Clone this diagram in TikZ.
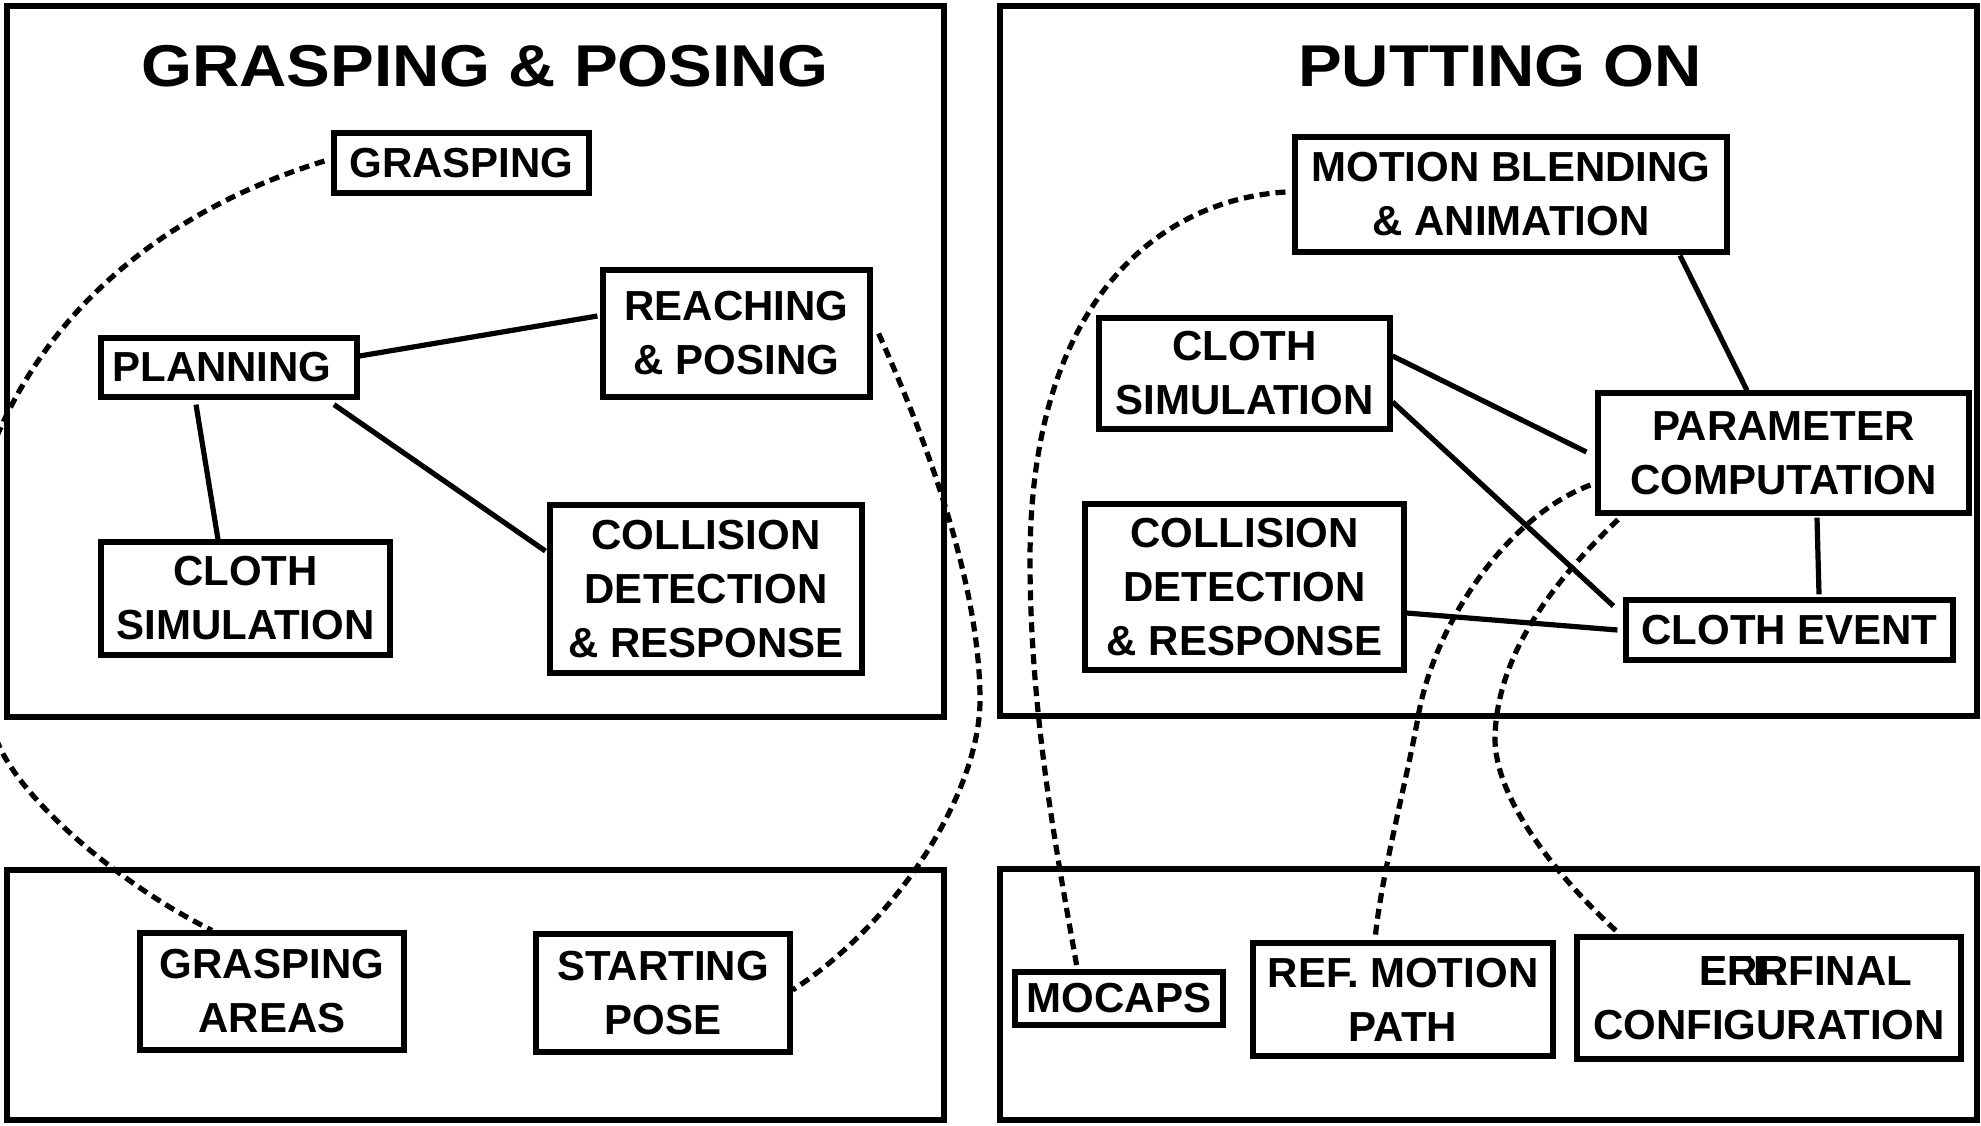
\documentclass[tikz,border=0pt]{standalone}
\usepackage{fontspec}
\setmainfont{Liberation Sans}
\usepackage{graphicx}
\newcommand{\diagnodefont}{\fontsize{42}{54}\selectfont\bfseries}
\newcommand{\diagtitlefont}{\fontsize{59}{70}\selectfont\bfseries}
\tikzset{
  box/.style={draw, line width=5.2pt, inner sep=0pt, align=center, font=\diagnodefont},
  panel/.style={line width=6.2pt},
  link/.style={line width=5.2pt},
  dashlink/.style={line width=5.2pt, dash pattern=on 10pt off 6pt},
  paneltitle/.style={anchor=base, inner sep=0pt, font=\diagtitlefont}
}
\begin{document}
\begin{tikzpicture}[x=1pt,y=-1pt]
\useasboundingbox (0,0) rectangle (1981,1125);
\fill[white] (0,0) rectangle (1981,1125);

% panels
\draw[panel] (7,6) rectangle (944,717);
\draw[panel] (1000,6) rectangle (1977,716);
\draw[panel] (7,870) rectangle (944,1120);
\draw[panel] (1000,869) rectangle (1977,1120);

% titles
\node[paneltitle] (t1) at (485,86) {\scalebox{1.11}[1]{GRASPING \& POSING}};
\node[paneltitle] (t2) at (1500,86) {\scalebox{1.11}[1]{PUTTING ON}};

% left panel nodes
\node[box, minimum width=255pt, minimum height=60pt] (grasp) at (461.5,163) {GRASPING};
\node[box, minimum width=256pt, minimum height=59pt] (plan) at (229,367.5) {PLANNING\hspace*{14pt}};
\node[box, minimum width=267pt, minimum height=127pt] (reach) at (736.5,333.5) {REACHING\\\& POSING};
\node[box, minimum width=289pt, minimum height=113pt] (lcloth) at (245.5,598.5) {CLOTH\\SIMULATION};
\node[box, minimum width=312pt, minimum height=168pt] (lcoll) at (706,589) {COLLISION\\DETECTION\\\& RESPONSE};
\node[box, minimum width=264pt, minimum height=117pt] (garea) at (272,991.5) {GRASPING\\AREAS};
\node[box, minimum width=254pt, minimum height=118pt] (spose) at (663,993) {STARTING\\POSE};

% right panel nodes
\node[box, minimum width=432pt, minimum height=115pt] (mb) at (1511,194.5) {MOTION BLENDING\\\& ANIMATION};
\node[box, minimum width=291pt, minimum height=111pt] (rcloth) at (1244.5,373.5) {CLOTH\\SIMULATION};
\node[box, minimum width=371pt, minimum height=120pt] (param) at (1783.5,453) {PARAMETER\\COMPUTATION};
\node[box, minimum width=319pt, minimum height=166pt] (rcoll) at (1244.5,587) {COLLISION\\DETECTION\\\& RESPONSE};
\node[box, minimum width=327pt, minimum height=60pt] (cevent) at (1789.5,630) {CLOTH EVENT};
\node[box, minimum width=208pt, minimum height=53pt] (mocaps) at (1119,998.5) {MOCAPS};
\node[box, minimum width=300pt, minimum height=113pt] (ref) at (1403,999.5) {REF. MOTION\\PATH};
\node[box, minimum width=384pt, minimum height=122pt] (eff) at (1769,998) {\hspace*{74pt}\rlap{EFF.}ERRFINAL\\CONFIGURATION};

% solid connectors
\draw[link] ([yshift=11.5pt]plan.east) -- ([xshift=-3pt,yshift=17.5pt]reach.west);
\draw[link] ([xshift=-33pt,yshift=-5pt]plan.south) -- ([xshift=-27.5pt]lcloth.north);
\draw[link] ([xshift=105pt,yshift=-5pt]plan.south) -- ([xshift=-2pt,yshift=38pt]lcoll.west);
\draw[link] ([xshift=169pt,yshift=-1pt]mb.south) -- ([xshift=-36.5pt]param.north);
\draw[link] ([yshift=17.5pt]rcloth.east) -- ([xshift=-9pt,yshift=1pt]param.west);
\draw[link] ([yshift=-28.5pt]rcloth.east) -- ([xshift=-10pt,yshift=24pt]cevent.west);
\draw[link] ([xshift=33.5pt,yshift=-2pt]param.south) -- ([xshift=29.5pt,yshift=3pt]cevent.north);
\draw[link] ([yshift=-26pt]rcoll.east) -- ([xshift=-6pt]cevent.west);

% dashed connectors
\begin{scope}
\clip (0,0) rectangle (1981,1125);
\draw[dashlink] ([xshift=-7pt,yshift=2pt]grasp.west)
   .. controls (150,215) and (20,330) .. (-25,500)
   .. controls (-40,560) and (-30,680) .. (0,748)
   .. controls (30,810) and (130,890) .. ([xshift=-60pt]garea.north);
\end{scope}
\draw[dashlink] ([xshift=6pt]reach.east)
   .. controls (940,470) and (980,600) .. (980,700)
   .. controls (980,790) and (900,920) .. ([yshift=3pt]spose.east);
\draw[dashlink] ([xshift=-7pt,yshift=2.5pt]mb.west)
   .. controls (1160,200) and (1030,300) .. (1030,560)
   .. controls (1030,720) and (1060,870) .. ([xshift=-42pt,yshift=2pt]mocaps.north);
\draw[dashlink] ([xshift=-5pt,yshift=-32pt]param.west)
   .. controls (1510,515) and (1435,620) .. (1418,717)
   .. controls (1408,775) and (1380,880) .. ([xshift=-28pt]ref.north);
\draw[dashlink] ([xshift=-165.5pt,yshift=-4pt]param.south)
   .. controls (1560,575) and (1497,650) .. (1495,737)
   .. controls (1494,800) and (1560,880) .. ([xshift=-149pt]eff.north);
\end{tikzpicture}
\end{document}
